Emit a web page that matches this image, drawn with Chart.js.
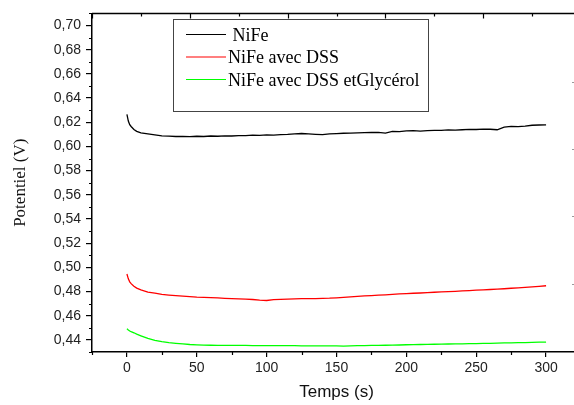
<!DOCTYPE html>
<html>
<head>
<meta charset="utf-8">
<script src="https://cdn.jsdelivr.net/npm/chart.js@4/dist/chart.umd.min.js"></script>
<style>
  html, body { margin: 0; padding: 0; background: #fff; overflow: hidden; width: 574px; height: 405px; }
  canvas { display: block; }
</style>
</head>
<body>
<canvas id="c" width="584" height="405"></canvas>
<script>
// Time base (s)
const times = [0, 1, 2, 3, 5, 7, 10, 15, 20, 25, 30, 35, 40, 45, 50, 55, 60, 65, 70, 75, 80, 85, 90, 95,
  100, 105, 110, 115, 120, 125, 130, 135, 140, 145, 150, 155, 160, 165, 170, 175, 180, 185, 190, 195,
  200, 205, 210, 215, 220, 225, 230, 235, 240, 245, 250, 255, 260, 265, 270, 275, 280, 285, 290, 295, 300];

// Potential (V) for each deposit
const nife = [0.6265, 0.6210, 0.6180, 0.6165, 0.6140, 0.6125, 0.6112, 0.6103, 0.6095, 0.6088, 0.6085, 0.6082,
  0.6083, 0.6081, 0.6084, 0.6082, 0.6086, 0.6084, 0.6088, 0.6086, 0.6090, 0.6089, 0.6093, 0.6091,
  0.6095, 0.6094, 0.6097, 0.6099, 0.6104, 0.6107, 0.6103, 0.6100, 0.6098, 0.6104, 0.6106, 0.6109,
  0.6110, 0.6112, 0.6114, 0.6115, 0.6116, 0.6110, 0.6124, 0.6122, 0.6128, 0.6130, 0.6127, 0.6131,
  0.6133, 0.6132, 0.6136, 0.6135, 0.6138, 0.6141, 0.6140, 0.6143, 0.6142, 0.6138, 0.6160, 0.6166,
  0.6163, 0.6168, 0.6175, 0.6177, 0.6179];

const nifeDss = [0.4945, 0.4905, 0.4880, 0.4865, 0.4843, 0.4828, 0.4813, 0.4796, 0.4786, 0.4776, 0.4771, 0.4766,
  0.4762, 0.4758, 0.4754, 0.4752, 0.4749, 0.4747, 0.4744, 0.4742, 0.4740, 0.4738, 0.4734, 0.4729,
  0.4726, 0.4733, 0.4736, 0.4738, 0.4740, 0.4741, 0.4742, 0.4742, 0.4744, 0.4745, 0.4748, 0.4752,
  0.4756, 0.4760, 0.4764, 0.4767, 0.4770, 0.4773, 0.4777, 0.4780, 0.4783, 0.4786, 0.4788, 0.4791,
  0.4794, 0.4797, 0.4799, 0.4802, 0.4805, 0.4808, 0.4811, 0.4814, 0.4817, 0.4820, 0.4823, 0.4827,
  0.4831, 0.4835, 0.4839, 0.4843, 0.4848];

const nifeDssGly = [0.4492, 0.4482, 0.4474, 0.4468, 0.4459, 0.4448, 0.4434, 0.4412, 0.4397, 0.4386, 0.4378, 0.4372,
  0.4367, 0.4362, 0.4359, 0.4357, 0.4356, 0.4355, 0.4355, 0.4354, 0.4354, 0.4354, 0.4353, 0.4353,
  0.4353, 0.4352, 0.4352, 0.4352, 0.4352, 0.4351, 0.4351, 0.4351, 0.4351, 0.4350, 0.4350, 0.4349,
  0.4350, 0.4352, 0.4353, 0.4354, 0.4355, 0.4356, 0.4357, 0.4358, 0.4360, 0.4361, 0.4362, 0.4363,
  0.4364, 0.4365, 0.4366, 0.4367, 0.4368, 0.4369, 0.4370, 0.4371, 0.4372, 0.4373, 0.4375, 0.4376,
  0.4377, 0.4378, 0.4379, 0.4381, 0.4382];

const seriesLabels = [' NiFe', 'NiFe avec DSS', 'NiFe avec DSS etGlycérol'];
const seriesColors = ['#000000', '#ff0000', '#00ff00'];

// Axis ticks
const xTicks = [0, 50, 100, 150, 200, 250, 300];
const yTicks = [0.44, 0.46, 0.48, 0.50, 0.52, 0.54, 0.56, 0.58, 0.60, 0.62, 0.64, 0.66, 0.68, 0.70];
const xMinorTicks = [-25, 25, 75, 125, 175, 225, 275, 325];
const yMinorTicks = [0.43, 0.45, 0.47, 0.49, 0.51, 0.53, 0.55, 0.57, 0.59, 0.61, 0.63, 0.65, 0.67, 0.69, 0.71];
// Top and right frame ticks (inward)
const topTicks = [-25, 10, 45, 80, 115, 150, 185, 220, 255, 290, 325];
const rightTicks = [0.6534, 0.5979, 0.5427, 0.4859];

const toPoints = ys => times.map((t, i) => ({ x: t, y: ys[i] }));

const frame = {
  id: 'frame',
  afterDraw(chart) {
    const { ctx, chartArea: a, scales: { x, y } } = chart;
    ctx.save();
    ctx.strokeStyle = '#000';
    ctx.lineWidth = 1.5;
    ctx.beginPath();
    ctx.moveTo(a.left, a.top);
    ctx.lineTo(a.right, a.top);
    ctx.lineTo(a.right, a.bottom);
    ctx.stroke();

    ctx.lineWidth = 1.2;
    ctx.beginPath();
    xMinorTicks.forEach(v => {
      const px = Math.round(x.getPixelForValue(v)) + 0.5;
      ctx.moveTo(px, a.bottom); ctx.lineTo(px, a.bottom + 3);
    });
    yMinorTicks.forEach(v => {
      const py = Math.round(y.getPixelForValue(v)) + 0.5;
      ctx.moveTo(a.left - 3, py); ctx.lineTo(a.left, py);
    });
    topTicks.forEach((v, i) => {
      const px = Math.round(x.getPixelForValue(v)) + 0.5;
      ctx.moveTo(px, a.top); ctx.lineTo(px, a.top + (i % 2 === 0 ? 5 : 3));
    });
    ctx.stroke();

    ctx.strokeStyle = '#999';
    ctx.lineWidth = 1;
    ctx.beginPath();
    rightTicks.forEach(v => {
      const py = Math.round(y.getPixelForValue(v)) + 0.5;
      ctx.moveTo(a.right, py); ctx.lineTo(a.right - 9, py);
    });
    ctx.stroke();

    // legend box
    const box = { l: 173.5, t: 19.5, r: 428.5, b: 111.5 };
    ctx.fillStyle = '#fff';
    ctx.fillRect(box.l, box.t, box.r - box.l, box.b - box.t);
    ctx.strokeStyle = '#444';
    ctx.lineWidth = 1;
    ctx.strokeRect(box.l, box.t, box.r - box.l, box.b - box.t);
    ctx.font = '18px "Liberation Serif", "Times New Roman", serif';
    ctx.textBaseline = 'middle';
    ctx.textAlign = 'left';
    chart.data.datasets.forEach((ds, i) => {
      const ly = 34.5 + i * 22.5;
      ctx.strokeStyle = ds.borderColor;
      ctx.lineWidth = 1.2;
      ctx.beginPath();
      ctx.moveTo(186, ly); ctx.lineTo(226, ly);
      ctx.stroke();
      ctx.fillStyle = '#000';
      ctx.fillText(ds.label, 228, ly + 1.5);
    });
    ctx.restore();
  }
};

new Chart(document.getElementById('c'), {
  type: 'line',
  data: {
    datasets: [
      { label: seriesLabels[0], data: toPoints(nife), borderColor: seriesColors[0] },
      { label: seriesLabels[1], data: toPoints(nifeDss), borderColor: seriesColors[1] },
      { label: seriesLabels[2], data: toPoints(nifeDssGly), borderColor: seriesColors[2] }
    ]
  },
  options: {
    responsive: false,
    animation: false,
    devicePixelRatio: 1,
    layout: { padding: { left: 0, top: 10, right: 3, bottom: 0 } },
    plugins: { legend: { display: false }, tooltip: { enabled: false } },
    elements: {
      point: { radius: 0 },
      line: { borderWidth: 1.3, tension: 0, fill: false }
    },
    scales: {
      x: {
        type: 'linear',
        min: -25,
        max: 325,
        afterBuildTicks: s => { s.ticks = xTicks.map(v => ({ value: v })); },
        afterFit: s => { s.height = 53; },
        border: { color: '#000', width: 1.5 },
        grid: { drawOnChartArea: false, color: '#000', lineWidth: 1.2, tickLength: 5 },
        ticks: { color: '#222', font: { family: '"Liberation Sans", Arial, sans-serif', size: 14 }, padding: 3, maxRotation: 0, autoSkip: false },
        title: { display: true, text: 'Temps (s)', color: '#111', font: { family: '"Liberation Sans", Arial, sans-serif', size: 17 }, padding: { top: 0, bottom: 2 } }
      },
      y: {
        type: 'linear',
        min: 0.43,
        max: 0.71,
        afterBuildTicks: s => { s.ticks = yTicks.map(v => ({ value: v })); },
        afterFit: s => { s.width = 92; },
        border: { color: '#000', width: 1.5 },
        grid: { drawOnChartArea: false, color: '#000', lineWidth: 1.2, tickLength: 6 },
        ticks: { color: '#222', font: { family: '"Liberation Sans", Arial, sans-serif', size: 14 }, padding: 5, autoSkip: false,
                 callback: v => v.toFixed(2).replace('.', ',') },
        title: { display: true, text: 'Potentiel (V)', color: '#111', font: { family: '"Liberation Serif", "Times New Roman", serif', size: 17 }, padding: { top: 10, bottom: 0 } }
      }
    }
  },
  plugins: [frame]
});
</script>
</body>
</html>
